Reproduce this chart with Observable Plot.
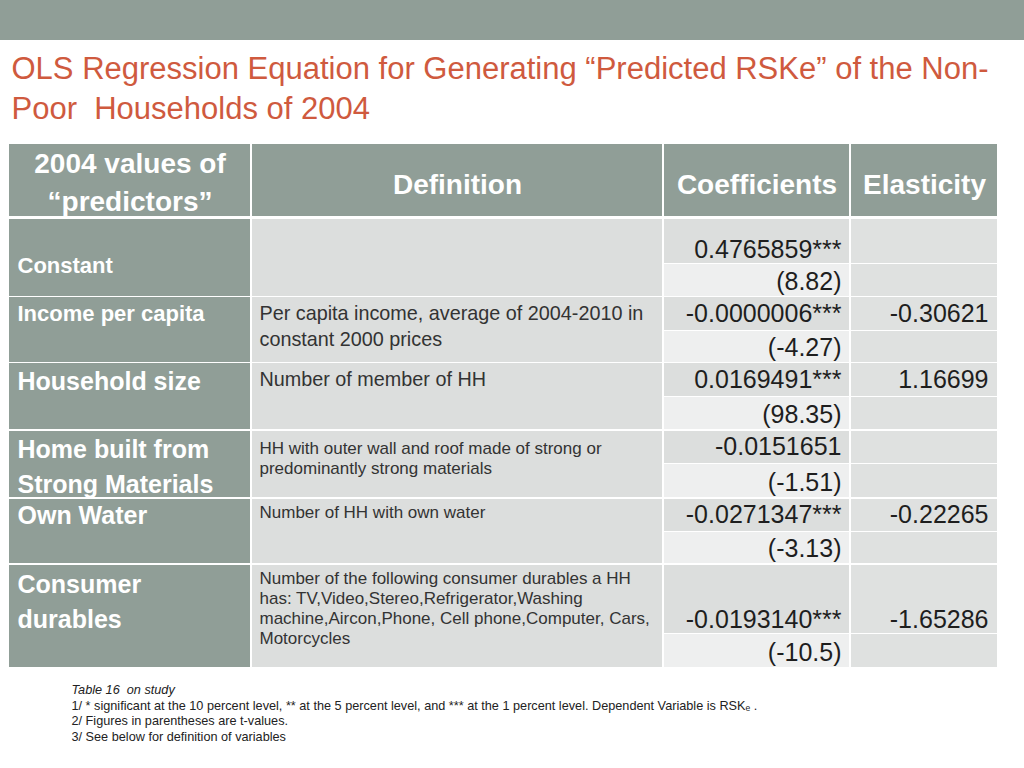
<!DOCTYPE html>
<html><head><meta charset="utf-8">
<script src="https://cdn.jsdelivr.net/npm/d3@7"></script>
<script src="https://cdn.jsdelivr.net/npm/@observablehq/plot@0.6"></script>
<style>
html,body{margin:0;padding:0;background:#fff;}
#chart svg{display:block;}
#chart svg text{white-space:pre;}
</style>
</head><body><div id="chart"></div>
<script>
// ---------------- data ----------------
const titleLines = ["OLS Regression Equation for Generating “Predicted RSKe” of the Non-", "Poor  Households of 2004"];
const headers = ["2004 values of\n“predictors”", "Definition", "Coefficients", "Elasticity"];
const predictors = ["Constant", "Income per capita", "Household size", "Home built from\nStrong Materials", "Own Water", "Consumer\ndurables"];
const definitions = [
  "",
  "Per capita income, average of 2004-2010 in\nconstant 2000 prices",
  "Number of member of HH",
  "HH with outer wall and roof made of strong or\npredominantly strong materials",
  "Number of HH with own water",
  "Number of the following consumer durables a HH\nhas: TV,Video,Stereo,Refrigerator,Washing\nmachine,Aircon,Phone, Cell phone,Computer, Cars,\nMotorcycles"
];
const coefficients = ["0.4765859***", "-0.0000006***", "0.0169491***", "-0.0151651", "-0.0271347***", "-0.0193140***"];
const tValues = ["(8.82)", "(-4.27)", "(98.35)", "(-1.51)", "(-3.13)", "(-10.5)"];
const elasticities = ["", "-0.30621", "1.16699", "", "-0.22265", "-1.65286"];
const notes = [
  "Table 16  on study",
  "1/ * significant at the 10 percent level, ** at the 5 percent level, and *** at the 1 percent level. Dependent Variable is RSKₑ .",
  "2/ Figures in parentheses are t-values.",
  "3/ See below for definition of variables"
];

// ---------------- layout ----------------
const W = 1024, H = 768;
const FONT = "'Liberation Sans', Arial, Helvetica, sans-serif";
const GREEN = "#909e97", CELL = "#dcdedd", CELL_LIGHT = "#eeefef", CELL_EL = "#dfe1e0";
const bandHeight = 40;
const titleX = 11, titleBase = [78, 118];
const cellX1 = [9, 252, 664, 851], cellX2 = [250, 662, 849, 997];
const headTop = 144, headBottom = 216;
const rowTop = [219, 297, 363, 431, 499, 565];
const rowSplit = [263, 330, 396, 463, 531, 633];
const rowBottom = [296, 362, 429, 497, 563, 667];
const headBase = [[172, 38], [193], [193], [193]];
const labelBase = [272, 320, 389, 457, 523, 592], labelSize = [22, 22, 25, 25, 25, 25], labelStep = 35;
const defBase = [0, 319, 385, 453, 517, 583], defSize = [17, 19.8, 19.8, 17, 17, 17], defStep = [20, 26, 26, 20.5, 20.5, 20.3];
const noteBase = [693, 709, 724, 740];

// ---------------- build mark data ----------------
const cells = [];
cells.push({x1: 0, x2: W, y1: 0, y2: bandHeight, fill: GREEN});
for (let c = 0; c < 4; ++c) cells.push({x1: cellX1[c], x2: cellX2[c], y1: headTop, y2: headBottom, fill: GREEN});
rowTop.forEach((top, r) => {
  cells.push({x1: cellX1[0], x2: cellX2[0], y1: top, y2: rowBottom[r], fill: GREEN});
  cells.push({x1: cellX1[1], x2: cellX2[1], y1: top, y2: rowBottom[r], fill: CELL});
  cells.push({x1: cellX1[2], x2: cellX2[2], y1: top, y2: rowSplit[r], fill: CELL});
  cells.push({x1: cellX1[2], x2: cellX2[2], y1: rowSplit[r] + 1, y2: rowBottom[r], fill: CELL_LIGHT});
  cells.push({x1: cellX1[3], x2: cellX2[3], y1: top, y2: rowSplit[r], fill: CELL_EL});
  cells.push({x1: cellX1[3], x2: cellX2[3], y1: rowSplit[r] + 1, y2: rowBottom[r], fill: CELL_EL});
});

const titleData = titleLines.map((t, i) => ({t, x: titleX, y: titleBase[i]}));

const headData = [];
headers.forEach((h, c) => {
  const cx = (cellX1[c] + cellX2[c]) / 2;
  h.split("\n").forEach((line, k) => headData.push({t: line, x: cx, y: headBase[c][0] + k * (headBase[c][1] || 0)}));
});

const labelData = [];
predictors.forEach((p, r) => p.split("\n").forEach((line, k) =>
  labelData.push({t: line, x: 17, y: labelBase[r] + k * labelStep, fs: labelSize[r]})));

const defData = [];
definitions.forEach((d, r) => { if (!d) return; d.split("\n").forEach((line, k) =>
  defData.push({t: line, x: 259, y: defBase[r] + k * defStep[r], fs: defSize[r]})); });

const numX = cellX2[2] - 8, elX = cellX2[3] - 9;
const coefBase = (r) => {
  const h = rowSplit[r] - rowTop[r];
  return h > 40 ? rowSplit[r] - 6 : rowTop[r] + h / 2 + 7.5;
};
const numData = [];
coefficients.forEach((v, r) => numData.push({t: v, x: numX, y: coefBase(r)}));
tValues.forEach((v, r) => numData.push({t: v, x: numX, y: rowBottom[r] - 6.5}));
elasticities.forEach((v, r) => { if (v) numData.push({t: v, x: elX, y: coefBase(r)}); });

const noteData = notes.map((t, i) => ({t, x: 71, y: noteBase[i], italic: i === 0}));

// ---------------- plot ----------------
const plot = Plot.plot({
  width: W, height: H, margin: 0,
  x: {type: "identity", axis: null},
  y: {type: "identity", axis: null},
  color: {type: "identity"},
  style: {fontFamily: FONT, background: "#fff"},
  marks: [
    Plot.rect(cells, {x1: "x1", x2: "x2", y1: "y1", y2: "y2", fill: "fill"}),
    Plot.text(titleData, {x: "x", y: "y", text: "t", textAnchor: "start", lineAnchor: "bottom", fontSize: 31, fill: "#cf5a3e", ariaLabel: "title"}),
    Plot.text(headData, {x: "x", y: "y", text: "t", textAnchor: "middle", lineAnchor: "bottom", fontSize: 28, fontWeight: "bold", fill: "#ffffff"}),
    Plot.text(labelData, {x: "x", y: "y", text: "t", textAnchor: "start", lineAnchor: "bottom", fontSize: d => d.fs, fontWeight: "bold", fill: "#ffffff"}),
    Plot.text(defData, {x: "x", y: "y", text: "t", textAnchor: "start", lineAnchor: "bottom", fontSize: d => d.fs, fill: "#333333"}),
    Plot.text(numData, {x: "x", y: "y", text: "t", textAnchor: "end", lineAnchor: "bottom", fontSize: 25, fill: "#1e1e1e"}),
    Plot.text(noteData.filter(d => d.italic), {x: "x", y: "y", text: "t", textAnchor: "start", lineAnchor: "bottom", fontSize: 12.7, fontStyle: "italic", fill: "#222"}),
    Plot.text(noteData.filter(d => !d.italic), {x: "x", y: "y", text: "t", textAnchor: "start", lineAnchor: "bottom", fontSize: 12.7, fill: "#222"})
  ]
});
document.getElementById("chart").appendChild(plot);
</script>
</body></html>
